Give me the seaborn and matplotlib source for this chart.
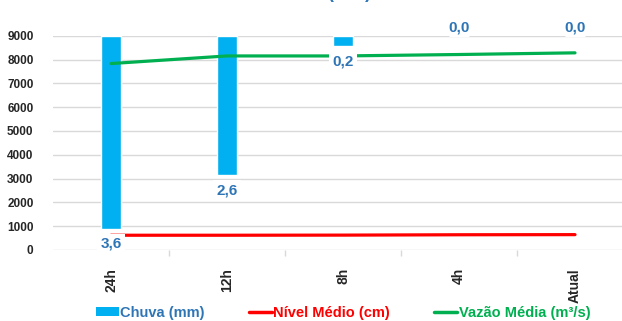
import matplotlib
matplotlib.use("Agg")
import matplotlib.pyplot as plt
import seaborn as sns
import pandas as pd
from matplotlib.patches import Patch
from matplotlib.lines import Line2D

categories = ["24h", "12h", "8h", "4h", "Atual"]
chuva_mm = [3.6, 2.6, 0.2, 0.0, 0.0]
chuva_labels = ["3,6", "2,6", "0,2", "0,0", "0,0"]
nivel_cm = [620, 620, 625, 640, 645]
vazao_m3s = [7830, 8150, 8150, 8210, 8280]
yticks = [0, 1000, 2000, 3000, 4000, 5000, 6000, 7000, 8000, 9000]

df = pd.DataFrame({"periodo": categories, "chuva": chuva_mm,
                   "nivel": nivel_cm, "vazao": vazao_m3s})

sns.set_theme(style="white")
plt.rcParams["font.family"] = ["Liberation Sans", "DejaVu Sans"]
plt.rcParams["font.weight"] = "bold"

BLUE_BAR = "#00B0F0"
BLUE_TXT = "#2E75B6"
RED = "#FF0000"
GREEN = "#00B050"
GRID = "#D9D9D9"

fig = plt.figure(figsize=(6.22, 3.21), dpi=100)
left = 53 / 622
width = 580 / 622
bottom = (321 - 250) / 321
height = 214.3 / 321
ax = fig.add_axes([left, bottom, width, height])
ax.set_zorder(0)

# bars (rain), inverted secondary scale
axb = ax.twinx()
axb.set_zorder(1)
axb.patch.set_visible(False)
sns.barplot(data=df, x="periodo", y="chuva", order=categories, color=BLUE_BAR,
            saturation=1, width=0.165, ax=axb)
axb.set_ylim(4.0, 0.0)
axb.set_yticks([])
axb.set_ylabel("")

# lines on top of bars
axl = ax.twinx()
axl.set_zorder(2)
axl.patch.set_visible(False)
sns.lineplot(data=df, x="periodo", y="nivel", color=RED, linewidth=2.3, ax=axl, sort=False)
sns.lineplot(data=df, x="periodo", y="vazao", color=GREEN, linewidth=2.3, ax=axl, sort=False)
axl.set_ylim(0, 9000)
axl.set_yticks([])
axl.set_ylabel("")

# main axis: grid and ticks
ax.set_ylim(0, 9000)
ax.set_yticks(yticks)
ax.set_yticklabels([str(v) for v in yticks], fontsize=8.5, fontweight="bold")
ax.tick_params(axis="y", length=0, pad=14)
ax.grid(axis="y", color=GRID, linewidth=1)
ax.set_xticks(range(len(categories)))
ax.set_xticklabels(categories, rotation=90, fontsize=10, fontweight="bold")
ax.set_xticks([0.5, 1.5, 2.5, 3.5], minor=True)
ax.tick_params(axis="x", which="major", length=0, pad=13)
ax.tick_params(axis="x", which="minor", length=4, color=GRID, width=1, bottom=True)
ax.set_xlabel("")

# data labels on a top layer (white boxes cover the lines)
axt = ax.twinx()
axt.set_zorder(3)
axt.patch.set_visible(False)
axt.set_ylim(4.0, 0.0)
axt.set_yticks([])
for a in (ax, axb, axl, axt):
    a.set_xlim(-0.5, 4.5)
    for s in a.spines.values():
        s.set_visible(False)
for a in (axb, axl, axt):
    a.tick_params(axis="x", length=0, labelbottom=False)
    a.set_xlabel("")
for i, (v, lab) in enumerate(zip(chuva_mm, chuva_labels)):
    if v > 0:
        axt.annotate(lab, (i, v), xytext=(0, -11), textcoords="offset points",
                     ha="center", va="center", fontsize=11, fontweight="bold",
                     color=BLUE_TXT,
                     bbox=dict(boxstyle="square,pad=0.2", fc="white", ec="none"))
    else:
        axt.annotate(lab, (i, v), xytext=(0, 6), textcoords="offset points",
                     ha="center", va="center", fontsize=11, fontweight="bold",
                     color=BLUE_TXT, annotation_clip=False)

# partially visible title at the very top (cut off in the reference too)
fig.text(349 / 622, 1.0 + 2.5 / 321, "(mm)", ha="center", va="baseline",
         fontsize=13, fontweight="bold", color=BLUE_TXT)

handles = [Patch(facecolor=BLUE_BAR, edgecolor="none"),
           Line2D([0], [0], color=RED, linewidth=2.5),
           Line2D([0], [0], color=GREEN, linewidth=2.5)]
labels = ["Chuva (mm)", "Nível Médio (cm)", "Vazão Média (m³/s)"]
leg = fig.legend(handles, labels, loc="center", bbox_to_anchor=(343 / 622, 1 - 313 / 321),
                 ncol=3, frameon=False, handlelength=1.6,
                 handleheight=0.6, handletextpad=0.1, columnspacing=3.0,
                 labelcolor=[BLUE_TXT, RED, GREEN], prop={"weight": "bold", "size": 10.5})

fig.savefig("out.png", dpi=100)
